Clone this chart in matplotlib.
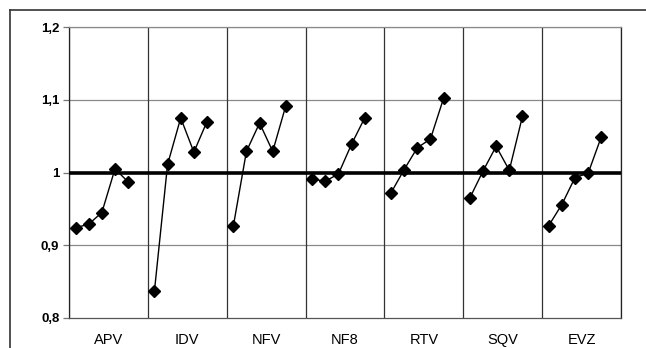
import numpy as np
import matplotlib
matplotlib.use("Agg")
import matplotlib.pyplot as plt
from matplotlib.lines import Line2D

plt.rcParams['font.family'] = ['Liberation Sans', 'DejaVu Sans']

# drug groups, 5 measurements each
drugs = ["APV", "IDV", "NFV", "NF8", "RTV", "SQV", "EVZ"]
apv = [0.924, 0.929, 0.945, 1.005, 0.987]
idv = [0.837, 1.011, 1.075, 1.028, 1.070]
nfv = [0.926, 1.029, 1.068, 1.029, 1.092]
nf8 = [0.991, 0.988, 0.998, 1.039, 1.075]
rtv = [0.972, 1.004, 1.034, 1.046, 1.102]
sqv = [0.965, 1.002, 1.036, 1.003, 1.077]
evz = [0.927, 0.956, 0.993, 0.999, 1.049]
series = [apv, idv, nfv, nf8, rtv, sqv, evz]

y_ticks = [0.8, 0.9, 1.0, 1.1, 1.2]
y_labels = ["0,8", "0,9", "1", "1,1", "1,2"]

slots = 6  # 5 points + 1 empty slot per group

fig = plt.figure(figsize=(6.46, 3.48), dpi=100)
ax = fig.add_axes([69 / 646, 1 - 318 / 348, 552 / 646, 291 / 348])

for g, vals in enumerate(series):
    xs = g * slots + np.arange(len(vals)) + 0.5
    ax.plot(xs, vals, color="black", lw=1.0, marker="D", markersize=6.6,
            markerfacecolor="black", markeredgecolor="black", zorder=4)

ax.set_xlim(0, slots * len(drugs))
ax.set_ylim(0.8, 1.2)

# thick reference line at 1
ax.axhline(1.0, color="black", lw=2.6, zorder=3)

# horizontal grid
for yv in [0.9, 1.1, 1.2]:
    ax.axhline(yv, color="#8a8a8a", lw=0.9, zorder=1)

# vertical group separators
ax.set_xticks(np.arange(0, slots * len(drugs) + 1, slots), minor=True)
ax.grid(True, which="minor", axis="x", color="#333333", lw=0.9)
ax.tick_params(axis="x", which="minor", length=0)

ax.set_xticks(np.arange(len(drugs)) * slots + 3)
ax.set_xticklabels(drugs, fontsize=10.5)
ax.tick_params(axis="x", which="major", length=0, pad=11)

ax.set_yticks(y_ticks)
ax.set_yticklabels(y_labels, fontsize=9.5, fontweight="bold")
ax.tick_params(axis="y", length=4, width=0.9, color="#777777", pad=3)

for side in ["left", "right"]:
    ax.spines[side].set_color("#222222")
    ax.spines[side].set_linewidth(0.9)
ax.spines["top"].set_color("#8a8a8a")
ax.spines["top"].set_linewidth(0.9)
ax.spines["bottom"].set_color("#555555")
ax.spines["bottom"].set_linewidth(0.9)

# outer frame (left and top edges visible)
fig.add_artist(Line2D([10 / 646, 10 / 646], [0, 1 - 10 / 348],
                      transform=fig.transFigure, color="#333333", lw=1.2))
fig.add_artist(Line2D([10 / 646, 1], [1 - 10 / 348, 1 - 10 / 348],
                      transform=fig.transFigure, color="#333333", lw=1.2))

fig.savefig("out.png", dpi=100)
